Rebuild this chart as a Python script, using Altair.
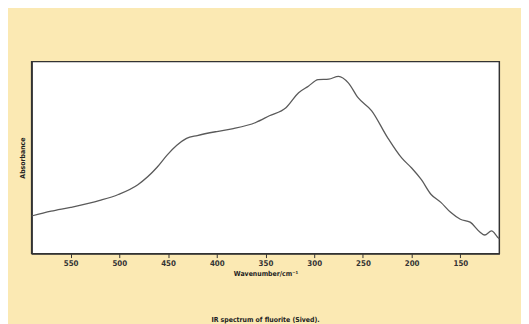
import altair as alt
import pandas as pd

wavenumber = [590, 570, 550, 520, 501, 481, 461, 451, 441, 431, 420, 400, 383, 360, 346,
              329, 316, 306, 296, 285, 275, 265, 255, 241, 225, 210, 200, 190, 180,
              170, 160, 150, 140, 130, 125, 118, 112, 110]
absorbance = [0.196, 0.221, 0.241, 0.277, 0.308, 0.359, 0.451, 0.513, 0.564, 0.600, 0.615,
              0.636, 0.651, 0.683, 0.718, 0.760, 0.838, 0.872, 0.906, 0.909, 0.923, 0.889,
              0.812, 0.744, 0.607, 0.497, 0.446, 0.385, 0.308, 0.267, 0.215, 0.179,
              0.164, 0.113, 0.097, 0.118, 0.087, 0.077]
x_ticks = [550, 500, 450, 400, 350, 300, 250, 200, 150]

df = pd.DataFrame({"wn": wavenumber, "A": absorbance})

FONT = "DejaVu Sans Condensed"

chart = alt.Chart(df).mark_line(color="#5a5a5a", strokeWidth=1.3, interpolate="monotone").encode(
    x=alt.X("wn:Q", scale=alt.Scale(domain=[590, 110], nice=False, zero=False),
            axis=alt.Axis(values=x_ticks, title="Wavenumber/cm⁻¹", grid=False,
                          domainColor="#333333", domainWidth=1.5, tickColor="#333333",
                          tickSize=4, tickOffset=0, labelFontSize=8, labelFont=FONT,
                          labelFontWeight="bold", labelColor="#333333", labelPadding=2,
                          titleFont=FONT, titleFontSize=7, titleFontWeight="bold",
                          titleColor="#222222", titlePadding=2)),
    y=alt.Y("A:Q", scale=alt.Scale(domain=[0, 1]),
            axis=alt.Axis(labels=False, ticks=False, grid=False, title="Absorbance",
                          domainColor="#333333", domainWidth=1.5,
                          titleFont=FONT, titleFontSize=7, titleFontWeight="bold",
                          titleColor="#222222", titlePadding=6)),
).properties(
    width=475, height=195,
    background="#FBE9B3",
    padding={"left": 24, "top": 52, "right": 22, "bottom": 69},
    autosize=alt.AutoSizeParams(type="none"),
    title=alt.TitleParams("IR spectrum of fluorite (Sived).", orient="bottom", anchor="middle",
                          font=FONT, fontSize=7, fontWeight="bold", color="#222222", offset=40),
).configure_view(
    fill="white", stroke="#333333", strokeWidth=1.5
)

chart.save("out.html", embed_options={"renderer": "svg", "actions": False})
